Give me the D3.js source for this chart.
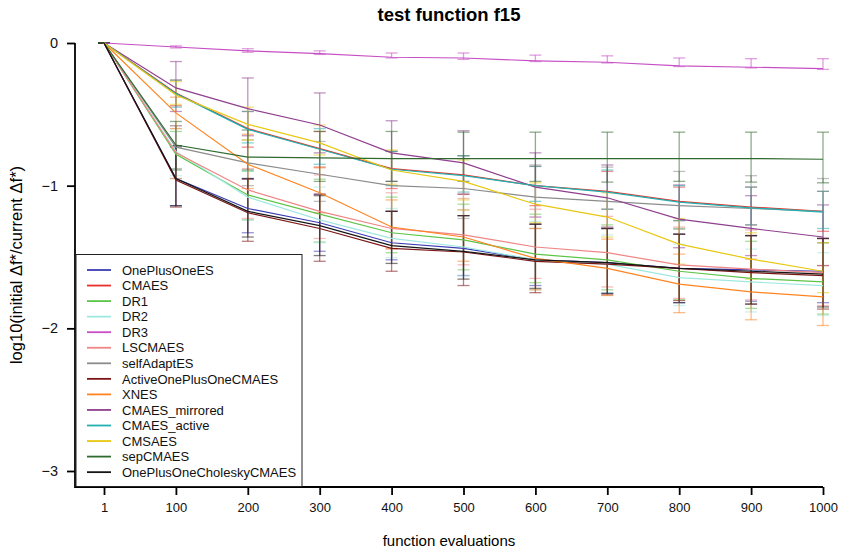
<!DOCTYPE html>
<html>
<head>
<meta charset="utf-8">
<script src="https://cdn.jsdelivr.net/npm/d3@7"></script>
<style>
	body { margin: 0; background: #fff; }
	text { font-family: "Liberation Sans", Arial, sans-serif; }
</style>
</head>
<body>
<script>

// budget points on the x axis
var evals = ["1", "100", "200", "300", "400", "500", "600", "700", "800", "900", "1000"];

var algos = ["OnePlusOneES", "CMAES", "DR1", "DR2", "DR3", "LSCMAES", "selfAdaptES",
	"ActiveOnePlusOneCMAES", "XNES", "CMAES_mirrored", "CMAES_active", "CMSAES",
	"sepCMAES", "OnePlusOneCholeskyCMAES"];

var colors = ["#3b3bb3", "#e8302a", "#5cc448", "#9fe8e0", "#c74ec4", "#f08585", "#8c8c8c",
	"#7d1515", "#ff8420", "#8e3f8e", "#22b0b0", "#e8c810", "#2f6a2f", "#151515"];

// mean of log10(initial df / current df), one row per algorithm
var means = [
	[0, -0.95, -1.16, -1.26, -1.40, -1.44, -1.52, -1.54, -1.58, -1.59, -1.60],
	[0, -0.35, -0.60, -0.74, -0.88, -0.925, -1.00, -1.04, -1.11, -1.15, -1.18],
	[0, -0.78, -1.065, -1.20, -1.33, -1.38, -1.48, -1.52, -1.60, -1.65, -1.675],
	[0, -0.76, -1.08, -1.24, -1.37, -1.43, -1.52, -1.55, -1.645, -1.675, -1.70],
	[0, -0.028, -0.055, -0.075, -0.10, -0.105, -0.125, -0.135, -0.16, -0.17, -0.18],
	[0, -0.77, -1.03, -1.18, -1.30, -1.345, -1.43, -1.47, -1.555, -1.585, -1.61],
	[0, -0.73, -0.84, -0.92, -1.00, -1.02, -1.08, -1.11, -1.14, -1.16, -1.18],
	[0, -0.96, -1.19, -1.30, -1.44, -1.465, -1.53, -1.55, -1.58, -1.61, -1.63],
	[0, -0.49, -0.85, -1.05, -1.29, -1.36, -1.51, -1.58, -1.69, -1.745, -1.78],
	[0, -0.315, -0.46, -0.575, -0.77, -0.84, -1.01, -1.085, -1.235, -1.30, -1.36],
	[0, -0.355, -0.605, -0.745, -0.885, -0.93, -1.00, -1.045, -1.115, -1.155, -1.185],
	[0, -0.365, -0.57, -0.70, -0.89, -0.97, -1.13, -1.22, -1.41, -1.515, -1.60],
	[0, -0.715, -0.80, -0.805, -0.81, -0.81, -0.81, -0.81, -0.81, -0.81, -0.815],
	[0, -0.95, -1.18, -1.28, -1.42, -1.46, -1.52, -1.54, -1.58, -1.60, -1.62]
];

// upper end of the error bars
var upper = [
	[0, -0.73, -0.95, -1.06, -1.18, -1.21, -1.27, -1.30, -1.34, -1.35, -1.37],
	[0, -0.26, -0.48, -0.62, -0.76, -0.79, -0.865, -0.90, -1.01, -1.01, -1.04],
	[0, -0.62, -0.90, -0.955, -1.08, -1.13, -1.20, -1.275, -1.30, -1.39, -1.40],
	[0, -0.60, -0.90, -1.01, -1.16, -1.17, -1.25, -1.345, -1.41, -1.445, -1.47],
	[0, -0.02, -0.04, -0.055, -0.07, -0.07, -0.085, -0.09, -0.105, -0.11, -0.11],
	[0, -0.58, -0.88, -0.925, -1.05, -1.09, -1.165, -1.215, -1.29, -1.31, -1.37],
	[0, -0.58, -0.68, -0.69, -0.76, -0.79, -0.855, -0.87, -0.90, -0.93, -0.95],
	[0, -0.72, -0.955, -1.06, -1.18, -1.21, -1.27, -1.30, -1.34, -1.35, -1.37],
	[0, -0.38, -0.64, -0.875, -1.10, -1.17, -1.30, -1.375, -1.48, -1.515, -1.56],
	[0, -0.13, -0.245, -0.35, -0.545, -0.615, -0.77, -0.855, -0.995, -1.07, -1.135],
	[0, -0.26, -0.48, -0.60, -0.76, -0.79, -0.865, -0.89, -1.00, -1.01, -1.04],
	[0, -0.27, -0.45, -0.575, -0.75, -0.82, -0.98, -1.05, -1.23, -1.33, -1.40],
	[0, -0.55, -0.61, -0.62, -0.62, -0.625, -0.625, -0.625, -0.625, -0.625, -0.625],
	[0, -0.72, -0.95, -1.07, -1.18, -1.21, -1.27, -1.30, -1.34, -1.35, -1.37]
];

// lower end of the error bars
var lower = [
	[0, -1.14, -1.33, -1.46, -1.52, -1.63, -1.70, -1.755, -1.82, -1.81, -1.82],
	[0, -0.44, -0.73, -0.87, -1.02, -1.06, -1.14, -1.165, -1.245, -1.275, -1.32],
	[0, -0.95, -1.24, -1.395, -1.47, -1.59, -1.68, -1.73, -1.80, -1.86, -1.90],
	[0, -0.93, -1.24, -1.40, -1.505, -1.63, -1.73, -1.75, -1.84, -1.885, -1.91],
	[0, -0.035, -0.065, -0.08, -0.105, -0.115, -0.13, -0.14, -0.165, -0.175, -0.185],
	[0, -0.95, -1.23, -1.37, -1.445, -1.555, -1.65, -1.71, -1.79, -1.80, -1.84],
	[0, -0.88, -1.00, -1.11, -1.18, -1.23, -1.30, -1.30, -1.305, -1.35, -1.40],
	[0, -1.15, -1.39, -1.53, -1.60, -1.70, -1.75, -1.765, -1.805, -1.83, -1.865],
	[0, -0.60, -1.02, -1.19, -1.44, -1.53, -1.73, -1.77, -1.89, -1.94, -1.98],
	[0, -0.48, -0.65, -0.77, -0.97, -1.06, -1.22, -1.29, -1.435, -1.49, -1.56],
	[0, -0.45, -0.70, -0.85, -1.00, -1.045, -1.11, -1.165, -1.245, -1.275, -1.30],
	[0, -0.43, -0.68, -0.785, -0.99, -1.10, -1.26, -1.36, -1.55, -1.655, -1.75],
	[0, -0.89, -0.89, -0.97, -0.97, -0.97, -0.97, -0.975, -0.97, -0.975, -0.98],
	[0, -1.14, -1.36, -1.49, -1.545, -1.655, -1.72, -1.755, -1.82, -1.83, -1.85]
];

var width = 841, height = 550;
var plotLeft = 75, plotRight = 823, plotTop = 43, plotBottom = 487;

var svg = d3.select("body").append("svg")
	.attr("width", width)
	.attr("height", height);

var x = d3.scalePoint().domain(evals).range([104, 823]);
var y = d3.scaleLinear().domain([0, -3]).range([43, 471]);

// error bars first, semi transparent like the original
var bars = svg.append("g").attr("class", "errbars");
for (var s = 0; s < algos.length; s++) {
	var g = bars.append("g")
		.attr("stroke", colors[s])
		.attr("stroke-opacity", 0.55)
		.attr("stroke-width", 1.3);
	var pts = evals.map(function(e, i) {
		return { e: e, lo: lower[s][i], hi: upper[s][i] };
	});
	g.selectAll("line.v").data(pts).enter().append("line")
		.attr("class", "v")
		.attr("x1", function(d) { return x(d.e); })
		.attr("x2", function(d) { return x(d.e); })
		.attr("y1", function(d) { return y(d.hi); })
		.attr("y2", function(d) { return y(d.lo); });
	["hi", "lo"].forEach(function(k) {
		g.selectAll("line." + k).data(pts).enter().append("line")
			.attr("class", k)
			.attr("x1", function(d) { return x(d.e) - 6; })
			.attr("x2", function(d) { return x(d.e) + 6; })
			.attr("y1", function(d) { return y(d[k]); })
			.attr("y2", function(d) { return y(d[k]); });
	});
}

var line = d3.line()
	.x(function(d, i) { return x(evals[i]); })
	.y(function(d) { return y(d); });

svg.append("g").selectAll("path")
	.data(means)
	.enter()
	.append("path")
	.attr("d", line)
	.attr("fill", "none")
	.attr("stroke", function(d, i) { return colors[i]; })
	.attr("stroke-width", 1.2);

// axes
var xAxis = svg.append("g")
	.attr("transform", "translate(0," + plotBottom + ")")
	.call(d3.axisBottom(x).tickSize(8).tickPadding(8));
var yAxis = svg.append("g")
	.attr("transform", "translate(" + plotLeft + ",0)")
	.call(d3.axisLeft(y).tickValues([0, -1, -2, -3]).tickSize(8).tickPadding(9)
		.tickFormat(d3.format("d")));
[xAxis, yAxis].forEach(function(a) {
	a.select(".domain").remove();
	a.selectAll(".tick line").attr("stroke", "#000").attr("stroke-width", 1.8);
	a.selectAll(".tick text")
		.style("font-family", "'Liberation Sans', Arial, sans-serif")
		.style("font-size", "13px")
		.attr("fill", "#111");
});
yAxis.selectAll(".tick text").style("font-size", "14.5px");

svg.append("path")
	.attr("d", "M" + plotLeft + "," + plotTop + "V" + plotBottom + "H" + plotRight)
	.attr("fill", "none")
	.attr("stroke", "#000")
	.attr("stroke-width", 1.8);

// legend
var lg = svg.append("g");
lg.append("rect")
	.attr("x", 76)
	.attr("y", 254.5)
	.attr("width", 226)
	.attr("height", 232)
	.attr("fill", "#fff")
	.attr("stroke", "#222")
	.attr("stroke-width", 1);
var item = lg.selectAll("g.item")
	.data(algos)
	.enter()
	.append("g")
	.attr("class", "item")
	.attr("transform", function(d, i) {
		return "translate(0," + (270 + i * 15.55) + ")";
	});
item.append("line")
	.attr("x1", 87).attr("x2", 111)
	.attr("stroke", function(d, i) { return colors[i]; })
	.attr("stroke-width", 1.8);
item.append("text")
	.text(function(d) { return d; })
	.attr("x", 122)
	.attr("dy", "0.36em")
	.style("font-size", "13px")
	.style("fill", "#111");

// titles
svg.append("text")
	.text("test function f15")
	.attr("x", (plotLeft + plotRight) / 2)
	.attr("y", 21)
	.attr("text-anchor", "middle")
	.style("font-size", "18.5px")
	.style("font-weight", "bold");
svg.append("text")
	.text("function evaluations")
	.attr("x", (plotLeft + plotRight) / 2)
	.attr("y", 546)
	.attr("text-anchor", "middle")
	.style("font-size", "15px");
svg.append("text")
	.text("log10(initial \u0394f*/current \u0394f*)")
	.attr("transform", "translate(22," + (plotTop + plotBottom) / 2 + ") rotate(-90)")
	.attr("text-anchor", "middle")
	.style("font-size", "16.5px");

</script>
</body>
</html>
